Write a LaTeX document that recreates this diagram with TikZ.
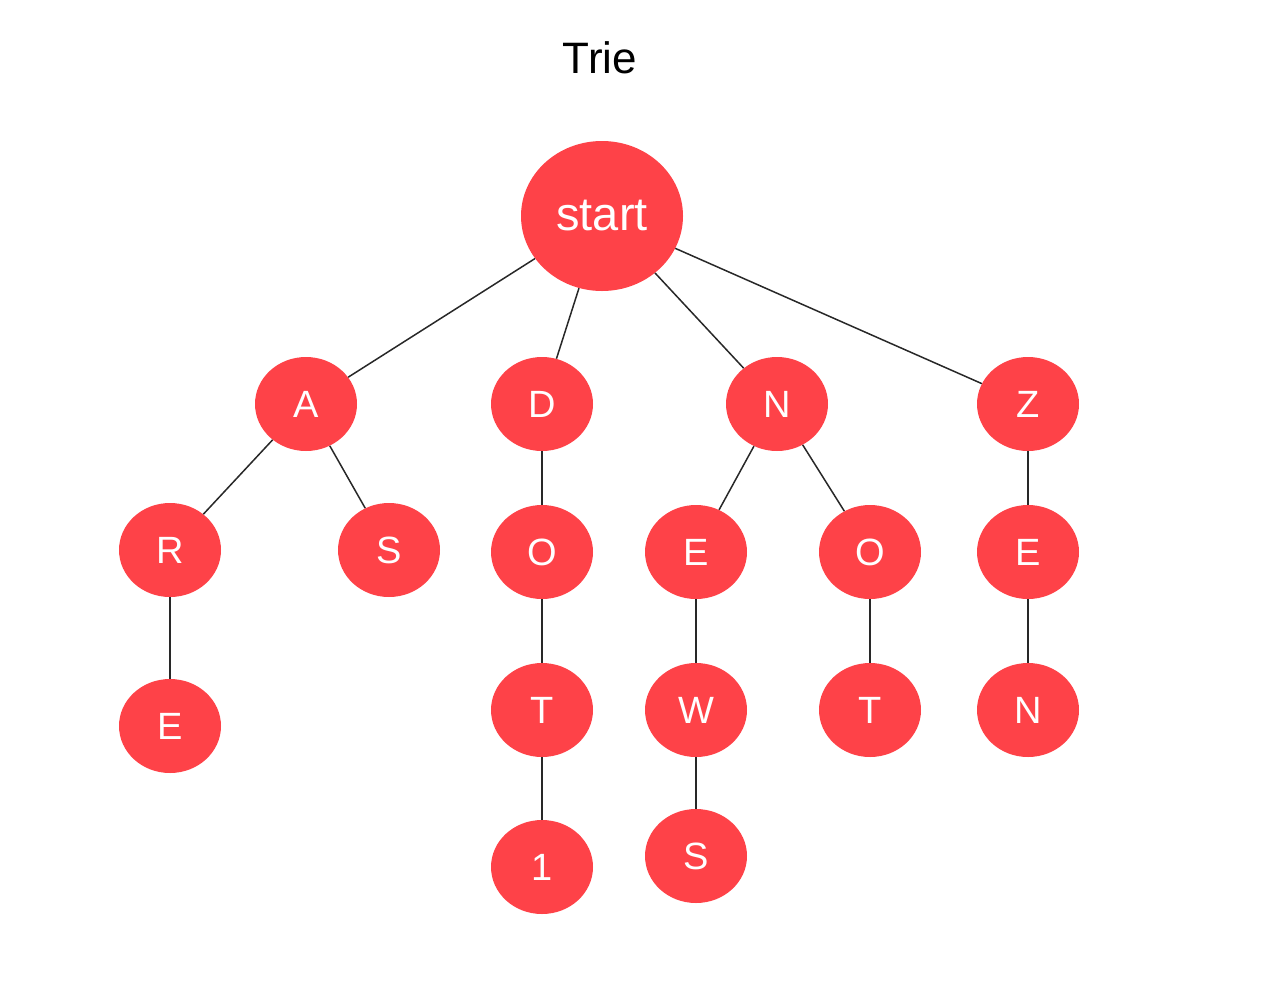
\documentclass[tikz,border=0pt]{standalone}
\usepackage{fontspec}
\setmainfont{Liberation Sans}
\usetikzlibrary{shapes.geometric}
\definecolor{nodered}{RGB}{254,66,72}
\definecolor{edgegray}{RGB}{40,40,40}
\tikzset{
  trienode/.style={ellipse, fill=nodered, draw=none, text=white, minimum width=102pt, minimum height=94pt, inner sep=0pt, font=\fontsize{38}{40}\selectfont},
  rootnode/.style={trienode, minimum width=162pt, minimum height=150pt, font=\fontsize{47}{50}\selectfont},
  link/.style={draw=edgegray, line width=1.5pt}
}
\begin{document}
\begin{tikzpicture}[x=1pt,y=-1pt]
\useasboundingbox (0,0) rectangle (1264,1002);
\node[font=\fontsize{44}{48}\selectfont] (title) at (600,58) {Trie};
\node[rootnode] (start) at (602,216) {start};
\node[trienode] (A) at (306,404) {A};
\node[trienode] (D) at (542,404) {D};
\node[trienode] (N) at (777,404) {N};
\node[trienode] (Z) at (1028,404) {Z};
\node[trienode] (R) at (170,550) {R};
\node[trienode] (S1) at (389,550) {S};
\node[trienode] (O1) at (542,552) {O};
\node[trienode] (E1) at (696,552) {E};
\node[trienode] (O2) at (870,552) {O};
\node[trienode] (E2) at (1028,552) {E};
\node[trienode] (E0) at (170,726) {E};
\node[trienode] (T1) at (542,710) {T};
\node[trienode] (W) at (696,710) {W};
\node[trienode] (T2) at (870,710) {T};
\node[trienode] (N2) at (1028,710) {N};
\node[trienode] (one) at (542,867) {1};
\node[trienode] (S2) at (696,856) {S};
\foreach \a/\b in {start/A,start/D,start/N,start/Z,A/R,A/S1,R/E0,D/O1,O1/T1,T1/one,N/E1,N/O2,E1/W,W/S2,O2/T2,Z/E2,E2/N2}
  \draw[link] (\a) -- (\b);
\end{tikzpicture}
\end{document}
